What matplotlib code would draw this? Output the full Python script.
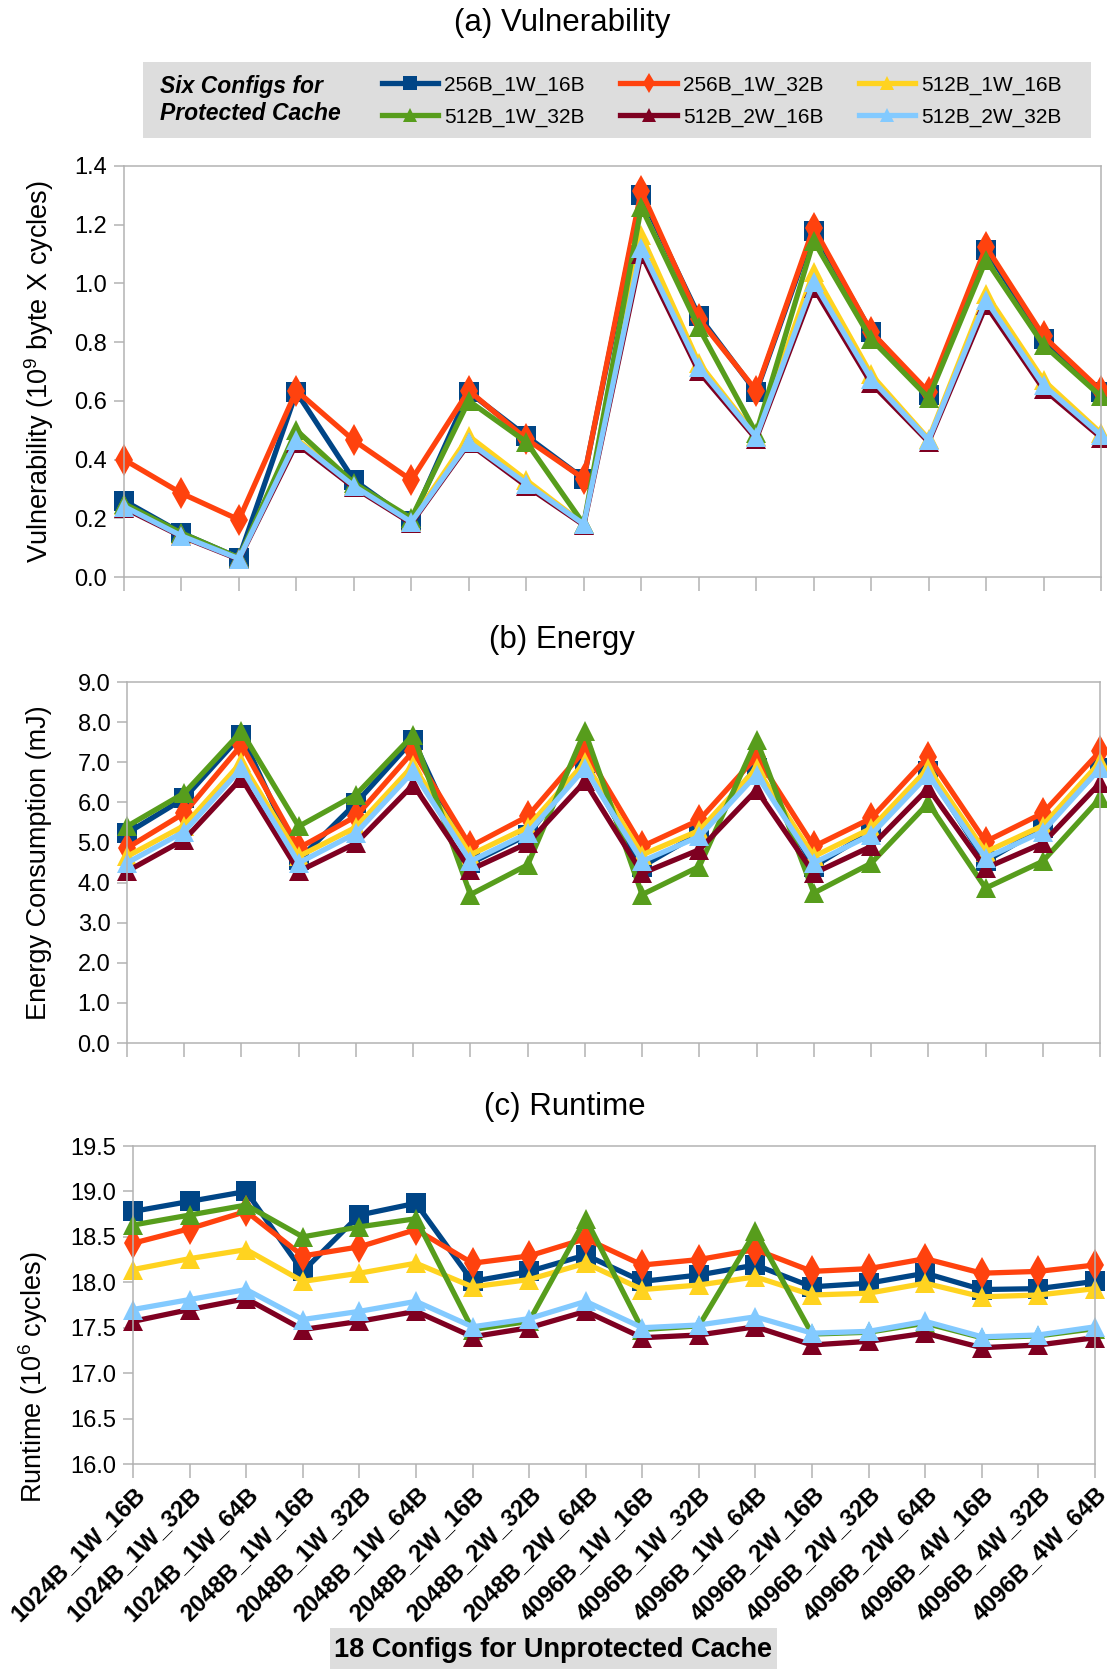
import matplotlib
matplotlib.use("Agg")
import matplotlib.pyplot as plt
from matplotlib.patches import Rectangle
from matplotlib.ticker import FormatStrFormatter, MultipleLocator

plt.rcParams['font.family'] = ['Liberation Sans', 'DejaVu Sans']
plt.rcParams['mathtext.fontset'] = 'custom'
plt.rcParams['mathtext.rm'] = 'Liberation Sans'
plt.rcParams['mathtext.it'] = 'Liberation Sans:italic'
plt.rcParams['mathtext.bf'] = 'Liberation Sans:bold'

# ---------------- data ----------------
categories = ["1024B_1W_16B", "1024B_1W_32B", "1024B_1W_64B",
              "2048B_1W_16B", "2048B_1W_32B", "2048B_1W_64B",
              "2048B_2W_16B", "2048B_2W_32B", "2048B_2W_64B",
              "4096B_1W_16B", "4096B_1W_32B", "4096B_1W_64B",
              "4096B_2W_16B", "4096B_2W_32B", "4096B_2W_64B",
              "4096B_4W_16B", "4096B_4W_32B", "4096B_4W_64B"]

series_names = ["256B_1W_16B", "256B_1W_32B", "512B_1W_16B",
                "512B_1W_32B", "512B_2W_16B", "512B_2W_32B"]

# (a) Vulnerability (10^9 byte x cycles)
vul_256B_1W_16B = [0.26, 0.15, 0.065, 0.63, 0.33, 0.19, 0.63, 0.48, 0.335, 1.30, 0.89, 0.63, 1.18, 0.835, 0.62, 1.115, 0.81, 0.63]
vul_256B_1W_32B = [0.40, 0.285, 0.195, 0.635, 0.465, 0.33, 0.635, 0.47, 0.335, 1.315, 0.88, 0.635, 1.19, 0.835, 0.63, 1.125, 0.82, 0.635]
vul_512B_1W_16B = [0.245, 0.145, 0.065, 0.47, 0.315, 0.19, 0.48, 0.33, 0.18, 1.165, 0.73, 0.48, 1.04, 0.69, 0.47, 0.965, 0.67, 0.49]
vul_512B_1W_32B = [0.25, 0.15, 0.065, 0.50, 0.32, 0.20, 0.60, 0.46, 0.18, 1.26, 0.85, 0.49, 1.145, 0.81, 0.61, 1.08, 0.79, 0.615]
vul_512B_2W_16B = [0.235, 0.138, 0.06, 0.455, 0.305, 0.183, 0.455, 0.31, 0.177, 1.10, 0.70, 0.47, 0.985, 0.66, 0.46, 0.925, 0.64, 0.475]
vul_512B_2W_32B = [0.24, 0.14, 0.062, 0.465, 0.31, 0.187, 0.46, 0.318, 0.18, 1.12, 0.715, 0.477, 1.005, 0.675, 0.466, 0.943, 0.653, 0.483]

# (b) Energy (mJ)
eng_256B_1W_16B = [5.23, 6.10, 7.68, 4.57, 5.98, 7.56, 4.48, 5.19, 6.97, 4.40, 5.23, 6.85, 4.40, 5.27, 6.77, 4.53, 5.36, 6.85]
eng_256B_1W_32B = [4.86, 5.73, 7.43, 4.86, 5.65, 7.27, 4.90, 5.65, 7.31, 4.90, 5.56, 7.14, 4.90, 5.60, 7.14, 5.02, 5.73, 7.27]
eng_512B_1W_16B = [4.65, 5.42, 7.00, 4.65, 5.38, 6.92, 4.69, 5.38, 7.00, 4.69, 5.30, 6.85, 4.65, 5.35, 6.85, 4.76, 5.42, 7.00]
eng_512B_1W_32B = [5.40, 6.23, 7.77, 5.40, 6.19, 7.68, 3.70, 4.44, 7.77, 3.70, 4.40, 7.56, 3.74, 4.48, 5.98, 3.86, 4.53, 6.10]
eng_512B_2W_16B = [4.28, 5.07, 6.60, 4.28, 4.98, 6.44, 4.32, 4.98, 6.52, 4.23, 4.82, 6.31, 4.23, 4.90, 6.35, 4.36, 4.98, 6.48]
eng_512B_2W_32B = [4.49, 5.27, 6.85, 4.49, 5.23, 6.77, 4.53, 5.23, 6.85, 4.53, 5.15, 6.69, 4.49, 5.19, 6.69, 4.61, 5.27, 6.85]

# (c) Runtime (10^6 cycles)
rt_256B_1W_16B = [18.78, 18.89, 19.00, 18.12, 18.74, 18.87, 18.01, 18.12, 18.30, 18.01, 18.08, 18.19, 17.95, 17.99, 18.10, 17.92, 17.93, 18.01]
rt_256B_1W_32B = [18.43, 18.59, 18.78, 18.29, 18.39, 18.58, 18.21, 18.29, 18.48, 18.19, 18.25, 18.36, 18.12, 18.15, 18.26, 18.10, 18.12, 18.19]
rt_512B_1W_16B = [18.14, 18.26, 18.36, 18.01, 18.10, 18.21, 17.95, 18.03, 18.21, 17.92, 17.97, 18.06, 17.86, 17.88, 17.99, 17.84, 17.86, 17.93]
rt_512B_1W_32B = [18.63, 18.74, 18.85, 18.50, 18.61, 18.70, 17.48, 17.57, 18.70, 17.48, 17.52, 18.56, 17.43, 17.45, 17.55, 17.39, 17.41, 17.49]
rt_512B_2W_16B = [17.57, 17.70, 17.82, 17.48, 17.57, 17.68, 17.40, 17.50, 17.68, 17.39, 17.42, 17.51, 17.31, 17.35, 17.44, 17.28, 17.31, 17.39]
rt_512B_2W_32B = [17.70, 17.81, 17.92, 17.59, 17.68, 17.79, 17.51, 17.60, 17.79, 17.50, 17.53, 17.62, 17.44, 17.46, 17.57, 17.40, 17.42, 17.51]

vul = [vul_256B_1W_16B, vul_256B_1W_32B, vul_512B_1W_16B, vul_512B_1W_32B, vul_512B_2W_16B, vul_512B_2W_32B]
eng = [eng_256B_1W_16B, eng_256B_1W_32B, eng_512B_1W_16B, eng_512B_1W_32B, eng_512B_2W_16B, eng_512B_2W_32B]
rt = [rt_256B_1W_16B, rt_256B_1W_32B, rt_512B_1W_16B, rt_512B_1W_32B, rt_512B_2W_16B, rt_512B_2W_32B]

# ---------------- style ----------------
colors = ["#004586", "#ff420e", "#ffd320", "#579d1c", "#7e0021", "#83caff"]
markers = ["s", "d", "^", "^", "^", "^"]
msizes = [15, 16, 14.5, 14.5, 14.5, 14.5]
spine_c = "#b3b3b3"

W, H = 1107, 1669
fig = plt.figure(figsize=(W / 100, H / 100), dpi=100)


def add_ax(l, r, t, b):
    return fig.add_axes([l / W, 1 - b / H, (r - l) / W, (b - t) / H])


ax1 = add_ax(124, 1101, 166, 577)
ax2 = add_ax(127, 1100, 682, 1043)
ax3 = add_ax(133, 1095, 1146, 1464)

x = list(range(len(categories)))
handles = []
for ax, data in ((ax1, vul), (ax2, eng), (ax3, rt)):
    for i, ys in enumerate(data):
        ln, = ax.plot(x, ys, color=colors[i], lw=3.8, marker=markers[i],
                      ms=msizes[i], mec=colors[i], mew=0, label=series_names[i],
                      solid_joinstyle='miter', clip_on=False)
        if ax is ax1:
            handles.append(ln)
    ax.set_xlim(0, len(categories) - 1)
    ax.set_xticks(x)
    for s in ax.spines.values():
        s.set_color(spine_c)
        s.set_linewidth(1.1)
    ax.tick_params(axis='both', colors=spine_c, width=1.1, labelcolor='black',
                   labelsize=17)
    ax.tick_params(axis='x', length=10, direction='out')
    ax.tick_params(axis='y', length=7, pad=5)
    ax.yaxis.set_major_formatter(FormatStrFormatter('%.1f'))

ax1.set_ylim(0, 1.4)
ax1.yaxis.set_major_locator(MultipleLocator(0.2))
ax2.set_ylim(0, 9)
ax2.yaxis.set_major_locator(MultipleLocator(1.0))
ax3.set_ylim(16, 19.5)
ax3.yaxis.set_major_locator(MultipleLocator(0.5))

ax1.set_xticklabels([])
ax2.set_xticklabels([])
ax3.set_xticklabels(categories, rotation=45, ha='right', va='top',
                    rotation_mode='anchor', fontsize=17.5, fontweight='bold')

# titles
fig.text(562 / W, 1 - 23 / H, "(a) Vulnerability", fontsize=22.5, ha='center', va='center')
fig.text(562 / W, 1 - 640 / H, "(b) Energy", fontsize=22.5, ha='center', va='center')
fig.text(565 / W, 1 - 1107 / H, "(c) Runtime", fontsize=22.5, ha='center', va='center')

# y labels
fig.text(39 / W, 1 - 371.5 / H, "Vulnerability (10$^{9}$ byte X cycles)", fontsize=19.5,
         rotation=90, ha='center', va='center')
fig.text(39 / W, 1 - 862.5 / H, "Energy Consumption (mJ)", fontsize=19.5,
         rotation=90, ha='center', va='center')
fig.text(33 / W, 1 - 1377 / H, "Runtime (10$^{6}$ cycles)", fontsize=19.5,
         rotation=90, ha='center', va='center')

# x label box
fig.patches.append(Rectangle((330 / W, 1 - 1669 / H), (777 - 330) / W, (1669 - 1628) / H,
                             transform=fig.transFigure, facecolor='#dddddd',
                             edgecolor='none', zorder=0))
fig.text(553 / W, 1 - 1650 / H, "18 Configs for Unprotected Cache", fontsize=19.5,
         fontweight='bold', ha='center', va='center')

# legend box
fig.patches.append(Rectangle((143 / W, 1 - 138 / H), (1091 - 143) / W, (138 - 62) / H,
                             transform=fig.transFigure, facecolor='#dddddd',
                             edgecolor='none', zorder=0))
fig.text(160 / W, 1 - 100 / H, "Six Configs for\nProtected Cache", fontsize=16.5,
         fontweight='bold', fontstyle='italic', ha='left', va='center', linespacing=1.2)
# row-wise legend order -> column-major list for matplotlib
leg_order = [0, 3, 1, 4, 2, 5]
fig.legend(handles=[handles[k] for k in leg_order], ncol=3, loc='center',
           bbox_to_anchor=(722 / W, 1 - 101 / H),
           frameon=False, fontsize=15, handlelength=2.7, handletextpad=0.3,
           columnspacing=1.7, labelspacing=0.62, markerscale=0.65)

fig.savefig("out.png", dpi=100)
